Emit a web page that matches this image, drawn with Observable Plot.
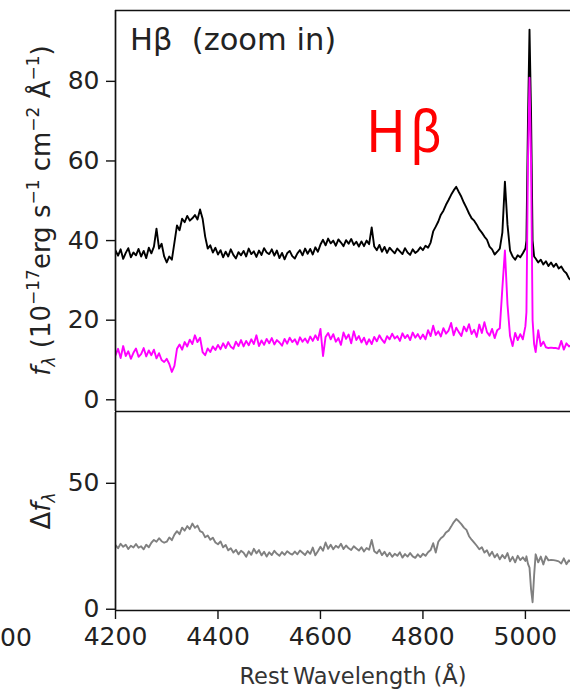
<!DOCTYPE html>
<html><head><meta charset="utf-8">
<script src="https://cdn.jsdelivr.net/npm/d3@7"></script>
<script src="https://cdn.jsdelivr.net/npm/@observablehq/plot@0.6"></script>
<style>
html,body{margin:0;padding:0;background:#fff;}
#chart{position:relative;width:570px;height:693px;overflow:hidden;background:#fff;}
#chart svg{display:block;}
#chart svg.lower{margin-top:-10px;position:relative;}
</style></head><body><div id="chart"></div>
<script>
// ---- data ----
const wavelength = [
4200,4205,4210,4215,4220,4225,4230,4235,4240,4245,
4250,4255,4260,4265,4270,4275,4280,4285,4290,4295,
4300,4305,4310,4315,4320,4325,4330,4335,4340,4345,
4350,4355,4360,4365,4370,4375,4380,4385,4390,4395,
4400,4405,4410,4415,4420,4425,4430,4435,4440,4445,
4450,4455,4460,4465,4470,4475,4480,4485,4490,4495,
4500,4505,4510,4515,4520,4525,4530,4535,4540,4545,
4550,4555,4560,4565,4570,4575,4580,4585,4590,4595,
4600,4605,4610,4615,4620,4625,4630,4635,4640,4645,
4650,4655,4660,4665,4670,4675,4680,4685,4690,4695,
4700,4705,4710,4715,4720,4725,4730,4735,4740,4745,
4750,4755,4760,4765,4770,4775,4780,4785,4790,4795,
4800,4805,4810,4815,4820,4825,4830,4835,4840,4845,
4850,4855,4860,4865,4870,4875,4880,4885,4890,4895,
4900,4905,4910,4915,4920,4925,4930,4935,4940,4945,
4950,4955,4960,4965,4970,4975,4980,4985,4990,4995,
5000,5002,5005,5008,5011,5014,5017,
5020,5025,5030,5035,5040,5045,5050,5055,5060,5065,5070,5075,5080,5085,5090];

const totalFlux = [
37.5,36.2,37.8,35.4,36.9,38.1,35.8,37.0,36.3,37.9,
36.0,37.4,35.6,38.2,36.8,38.5,43.0,38.0,39.2,36.0,
34.5,36.0,35.2,39.5,43.8,42.6,45.5,44.6,46.2,45.0,
45.6,46.4,45.3,47.8,45.5,41.0,38.0,38.8,37.0,38.2,
36.5,37.6,35.8,37.2,36.0,37.8,36.4,35.5,37.1,36.3,
37.4,36.0,38.0,36.6,37.3,35.9,37.5,36.4,38.1,37.0,
36.6,37.8,36.2,37.5,35.6,36.9,35.3,36.8,37.4,36.1,
35.5,36.8,37.6,36.3,38.0,36.7,37.9,36.5,38.3,37.2,
39.0,40.2,38.8,40.5,39.3,40.0,38.7,40.3,39.5,38.6,
40.1,39.2,40.4,38.9,39.7,38.5,39.8,38.6,40.0,39.1,
43.3,38.5,37.6,38.9,37.2,38.4,36.9,38.2,37.5,36.8,
38.0,37.3,36.6,38.1,37.0,36.4,37.8,36.9,37.4,38.3,
37.6,38.7,38.2,39.5,42.3,43.5,44.8,46.5,47.5,49.0,
50.2,51.5,52.6,53.5,52.2,51.0,49.5,48.2,46.8,45.6,
45.0,44.0,42.8,42.0,41.0,40.2,38.5,37.8,36.5,37.2,
38.0,42.0,54.8,44.0,37.5,36.0,35.2,36.3,35.8,36.8,
38.0,40.0,70.0,93.0,72.0,40.0,36.0,
35.5,34.5,35.2,34.0,34.8,33.6,34.5,33.4,34.2,33.0,33.5,32.4,31.8,30.5,30.0];

const hostFlux = [
11.2,12.8,10.5,13.5,11.0,12.2,10.3,11.8,12.9,10.8,
11.5,13.0,10.9,12.4,11.2,12.6,10.4,11.7,10.0,9.5,
10.3,9.0,7.0,8.5,12.8,13.9,12.6,14.5,13.4,15.1,
14.0,16.2,14.5,15.6,12.0,11.2,12.9,12.0,13.4,12.5,
13.8,12.7,14.2,13.0,14.5,13.3,12.8,14.6,13.5,15.0,
13.4,14.8,13.7,15.2,14.0,16.2,13.5,14.9,13.8,15.3,
14.2,15.5,13.9,15.0,14.4,13.6,15.3,14.1,15.6,14.5,
15.2,13.9,15.7,14.6,15.4,14.3,15.9,14.8,16.2,15.0,
17.8,11.0,15.8,16.8,15.2,16.5,14.6,15.5,13.8,16.9,
15.3,16.4,14.2,17.2,15.0,16.0,14.4,15.6,13.9,15.2,
14.0,15.8,14.7,16.2,15.1,14.3,16.0,15.2,16.6,15.4,
16.0,14.8,16.7,15.5,16.3,15.0,16.9,15.6,16.5,15.3,
16.4,15.2,17.5,16.0,18.6,16.3,17.2,15.9,18.0,16.6,
17.4,19.3,16.2,18.1,17.0,16.0,18.4,17.2,19.0,16.5,
17.6,15.8,18.9,16.8,19.5,17.0,16.1,17.8,15.5,17.5,
18.0,28.0,37.5,24.0,16.0,13.5,16.8,15.0,16.5,15.2,
18.5,22.0,60.0,80.9,60.0,20.0,14.0,
12.0,17.5,13.5,14.6,13.2,13.0,13.1,13.0,13.0,12.8,14.8,12.6,14.2,13.4,13.8];

const diffFlux = [
25.5,24.2,26.0,24.8,25.6,23.9,25.2,24.5,25.9,24.4,
25.0,23.8,25.6,24.6,26.4,27.5,26.8,28.2,27.0,26.4,
26.8,28.5,27.4,29.6,31.0,29.8,32.4,31.2,33.0,31.8,
34.0,32.3,33.2,31.0,30.5,28.6,29.3,27.6,28.4,26.5,
25.8,26.9,24.6,25.5,23.4,24.2,22.5,23.6,21.8,23.2,
22.4,20.8,23.0,21.6,24.0,22.2,23.5,21.4,22.8,20.9,
22.6,21.5,23.2,22.0,21.2,22.7,21.6,23.0,22.2,21.7,
22.9,21.8,23.3,22.4,21.5,23.1,22.0,24.5,21.4,23.0,
24.8,23.2,26.5,24.0,25.6,23.8,25.2,24.4,26.0,23.9,
25.3,24.2,23.5,25.0,24.1,23.3,24.6,22.9,24.3,23.6,
27.5,23.0,22.2,23.6,21.5,22.8,21.0,22.4,20.8,22.0,
21.2,22.6,20.5,21.9,20.9,22.3,21.0,20.4,21.8,20.7,
22.0,21.2,22.6,23.5,26.2,22.5,26.8,28.2,29.0,30.5,
31.2,32.8,34.5,35.8,34.9,33.8,32.4,31.5,29.0,27.6,
26.4,25.2,23.8,24.6,22.5,23.4,21.2,22.8,20.6,21.9,
19.8,21.5,20.2,22.3,19.0,20.8,18.6,21.2,19.5,20.6,
19.2,21.0,18.0,16.5,8.0,2.8,13.5,
21.8,18.6,20.9,17.8,21.0,19.4,19.6,19.5,19.3,19.0,18.2,20.2,17.9,19.4,18.5];

const topTicks = [0, 20, 40, 60, 80];
const bottomTicks = [0, 50];
const xTicks = [4200, 4400, 4600, 4800, 5000];
const xDomain = [4200, 5088];
const topDomain = [-2.94, 97.8];
const bottomDomain = [-0.5, 78.1];

const panelTitle = "Hβ\u00a0\u00a0(zoom in)";
const lineLabel = "Hβ";
const xLabel = "Rest\u2009Wavelength (Å)";

// ---- build table ----
const rows = wavelength.map((w, i) => ({w, total: totalFlux[i], host: hostFlux[i], diff: diffFlux[i]}));

const FONT = "DejaVu Sans";
const INK = "#222";
const frameStroke = "#111";
const frameW = 1.7;
const fmt = d => String(d);

// top SVG: 422 px tall (frame 10..411), lower SVG overlaps its last 10 px
const topPlot = Plot.plot({
  width: 570, height: 422,
  marginTop: 10, marginBottom: 11, marginLeft: 115, marginRight: 0,
  x: {domain: xDomain, axis: null},
  y: {domain: topDomain},
  style: {fontFamily: FONT, fontSize: "25px", color: INK, background: "white", overflow: "visible"},
  marks: [
    Plot.line(rows, {x: "w", y: "total", stroke: "black", strokeWidth: 1.9, clip: true}),
    Plot.line(rows, {x: "w", y: "host", stroke: "#ff00ff", strokeWidth: 1.9, clip: true}),
    Plot.axisY(topTicks, {tickSize: 9, tickPadding: 7, tickFormat: fmt, label: null, stroke: frameStroke, strokeWidth: 1.4}),
    Plot.ruleY([topDomain[1]], {stroke: frameStroke, strokeWidth: frameW}),
    Plot.ruleY([topDomain[0]], {stroke: frameStroke, strokeWidth: frameW}),
    Plot.ruleX([xDomain[0]], {stroke: frameStroke, strokeWidth: frameW})
  ]
});

const bottomPlot = Plot.plot({
  width: 570, height: 281,
  marginTop: 0, marginBottom: 83, marginLeft: 115, marginRight: 0,
  x: {domain: xDomain},
  y: {domain: bottomDomain},
  style: {fontFamily: FONT, fontSize: "25px", color: INK, background: "transparent", overflow: "visible"},
  marks: [
    Plot.line(rows, {x: "w", y: "diff", stroke: "#808080", strokeWidth: 1.9, clip: true}),
    Plot.axisY(bottomTicks, {tickSize: 9, tickPadding: 7, tickFormat: fmt, label: null, stroke: frameStroke, strokeWidth: 1.4}),
    Plot.axisX(xTicks, {tickSize: 9, tickPadding: 8, tickFormat: fmt, label: null, stroke: frameStroke, strokeWidth: 1.4}),
    Plot.ruleY([bottomDomain[0]], {stroke: frameStroke, strokeWidth: frameW}),
    Plot.ruleX([xDomain[0]], {stroke: frameStroke, strokeWidth: frameW})
  ]
});
bottomPlot.classList.add("lower");

const root = document.getElementById("chart");
root.append(topPlot, bottomPlot);

// ---- text annotations ----
const ts = d3.select(topPlot);
ts.append("text")
  .attr("x", 130).attr("y", 50).attr("text-anchor", "start")
  .style("font-family", FONT).style("font-size", "30.5px").attr("fill", INK)
  .text(panelTitle);

ts.append("text")
  .attr("transform", "translate(367,152) scale(0.86,1)").attr("text-anchor", "start")
  .style("font-family", "Liberation Sans").style("font-size", "61px")
  .style("letter-spacing", "7px").attr("fill", "#ff0000")
  .text(lineLabel);

function part(sel, txt, opts = {}) {
  const t = sel.append("tspan").text(txt);
  if (opts.size) t.style("font-size", opts.size);
  if (opts.dy) t.attr("dy", opts.dy);
  if (opts.italic) t.style("font-style", "italic");
  return t;
}

// rotated y label (top)
const yl = ts.append("text")
  .attr("transform", `translate(50,${(10 + 411) / 2}) rotate(-90)`)
  .attr("text-anchor", "middle")
  .style("font-family", FONT).style("font-size", "26px").attr("fill", INK);
part(yl, "f", {italic: true});
part(yl, "λ", {italic: true, size: "17px", dy: 5});
part(yl, "\u00a0(10", {dy: -5});
part(yl, "−17", {size: "17px", dy: -11});
part(yl, "erg\u00a0s", {dy: 11});
part(yl, "−1", {size: "17px", dy: -11});
part(yl, "\u00a0cm", {dy: 11});
part(yl, "−2", {size: "17px", dy: -11});
part(yl, "\u00a0Å", {dy: 11});
part(yl, "−1", {size: "17px", dy: -11});
part(yl, ")", {dy: 11});

const bs = d3.select(bottomPlot);
const yl2 = bs.append("text")
  .attr("transform", `translate(50,${(610 - 412) / 2}) rotate(-90)`)
  .attr("text-anchor", "middle")
  .style("font-family", FONT).style("font-size", "26px").attr("fill", INK);
part(yl2, "Δ");
part(yl2, "f", {italic: true});
part(yl2, "λ", {italic: true, size: "17px", dy: 5});

bs.append("text")
  .attr("x", 353).attr("y", 693 - 412 - 9)
  .attr("text-anchor", "middle")
  .style("font-family", FONT).style("font-size", "22.5px").attr("fill", "#333")
  .text(xLabel);

// neighbour panel's tick label fragment at the far left
bs.append("text")
  .attr("x", 0).attr("y", 637 - 412).attr("dy", "0.36em").attr("text-anchor", "start")
  .style("font-family", FONT).style("font-size", "25px").attr("fill", INK)
  .text("00");
</script>
</body></html>
